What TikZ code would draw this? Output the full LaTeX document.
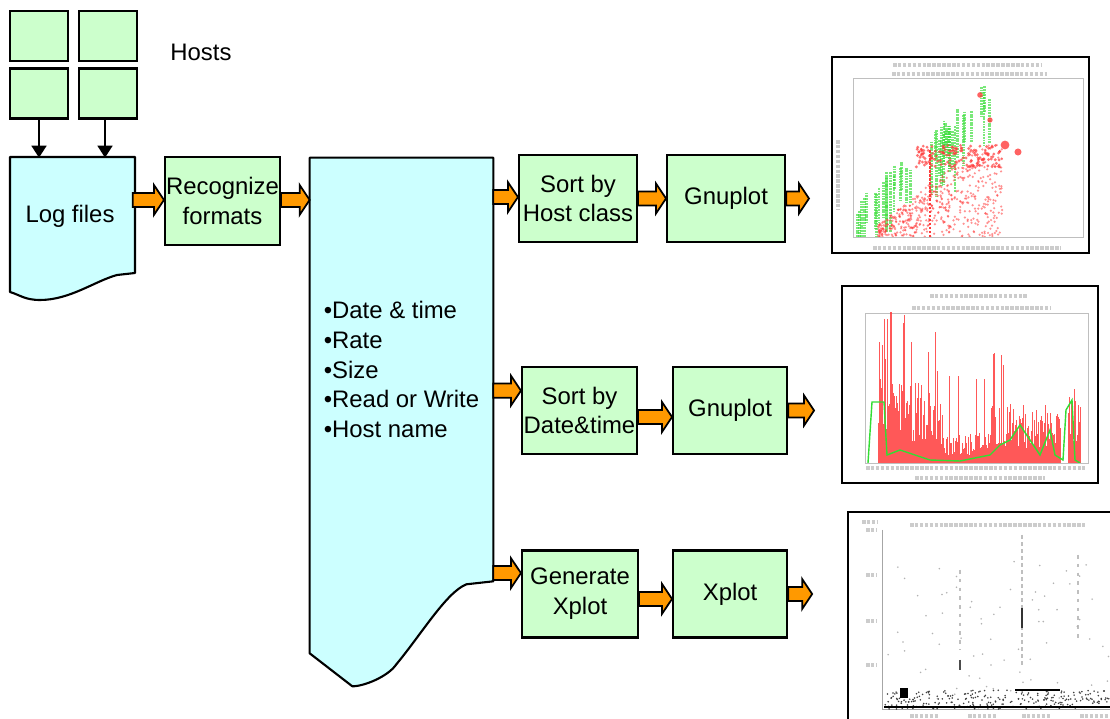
\documentclass[tikz,border=0pt]{standalone}
\usepackage{fontspec}
\setmainfont{Liberation Sans}
\usetikzlibrary{arrows.meta,calc,positioning,backgrounds}

\definecolor{hostgreen}{HTML}{CCFFCC}
\definecolor{doccyan}{HTML}{CCFFFF}
\definecolor{arroworange}{HTML}{FF9900}
\definecolor{plotred}{HTML}{FF3B3B}
\definecolor{plotgreen}{HTML}{33DD33}

\begin{document}
\begin{tikzpicture}[
    x=0.02cm, y=-0.02cm,
    font=\fontsize{13.6}{17}\selectfont,
    host node/.style={rectangle,draw,fill=hostgreen,line width=1.2pt,minimum width=1.16cm,minimum height=1cm,inner sep=0pt},
    step node/.style={rectangle,draw,fill=hostgreen,line width=1.2pt,align=center,inner sep=0pt,minimum height=1.74cm},
    doc node/.style={rectangle,inner sep=0pt,align=left},
    doc shape/.style={draw,fill=doccyan,line width=1.2pt,line join=round},
    plot frame/.style={rectangle,draw,line width=1.2pt,fill=white,inner sep=0pt},
    blur text/.style={gray!40,line width=2.2pt,dash pattern=on 2pt off 0.8pt},
    host arrow/.style={line width=1pt,-{Triangle[length=6.8pt,width=8.5pt]}},
    fat arrow/.style={draw=black,fill=arroworange,line width=1pt,line join=miter,
        to path={let \p1=(\tikztostart), \p2=(\tikztotarget) in
            (\x1,\y1+4pt) -- (\x2-5.7pt,\y1+4pt) -- (\x2-5.7pt,\y1+8.5pt) -- (\x2,\y1)
            -- (\x2-5.7pt,\y1-8.5pt) -- (\x2-5.7pt,\y1-4pt) -- (\x1,\y1-4pt) -- cycle}}
]
\useasboundingbox (0,0) rectangle (1110,719);

% Hosts
\node[host node] (h1) at (39,36) {};
\node[host node] (h2) at (108,36) {};
\node[host node] (h3) at (39,93.5) {};
\node[host node] (h4) at (108,93.5) {};
\node (hostlabel) at (201,52) {Hosts};

% Log files and parsing
\node[doc node,minimum width=2.5cm,minimum height=2.32cm] (logf) at (70,216) {Log files};
\node[step node,minimum width=2.3cm,minimum height=1.76cm] (recog) at (222.5,201) {Recognize\\formats};

% Parsed fields
\node[doc node,minimum width=3.66cm,minimum height=8.46cm] (bigdoc) at (401.5,369.5)
    {•Date \& time\\•Rate\\•Size\\•Read or Write\\•Host name};

\begin{scope}[on background layer]
\draw[doc shape] (10,157) -- (135,157) -- (135,273) -- ++(-18,2)
    .. controls +(-22,6) and +(30,0) .. ++(-77,25)
    .. controls +(-15,0) and +(10,3) .. (10,292) -- cycle;
\draw[doc shape] (bigdoc.north west) -- (bigdoc.north east) -- (bigdoc.south east) -- ++(-27,3)
    .. controls +(-20,8) and +(25,-30) .. ++(-70,80)
    .. controls +(-8,12) and +(12,0) .. ++(-44,22)
    -- ($(bigdoc.south west)+(0,72)$) -- cycle;
\end{scope}

% Processing rows
\node[step node,minimum width=2.36cm] (sorthost) at (578,198.5) {Sort by\\Host class};
\node[step node,minimum width=2.36cm,right=0.56cm of sorthost] (gnuA) {Gnuplot};
\node[step node,minimum width=2.3cm] (sortdt) at (579.5,410.5) {Sort by\\Date\&time};
\node[step node,minimum width=2.28cm,right=0.68cm of sortdt] (gnuB) {Gnuplot};
\node[step node,minimum width=2.32cm] (genx) at (580,594) {Generate\\Xplot};
\node[step node,minimum width=2.28cm,right=0.66cm of genx] (xplot) {Xplot};

% Plot thumbnails
\node[plot frame,minimum width=5.14cm,minimum height=3.92cm] (plotA) at (960.5,155) {};
\node[plot frame,minimum width=5.12cm,minimum height=3.94cm] (plotB) at (970,384.5) {};
\begin{scope}
\clip (0,0) rectangle (1110,719);
\node[plot frame,minimum width=5.34cm,minimum height=4.26cm] (plotC) at (981.5,618.5) {};
% xplot
\draw[gray!70,line width=0.5pt] (882,530) -- (882,709) -- (1115,709);
\draw[blur text] (910,525) -- (1085,525);
\draw[blur text] (862,522) -- (878,522);
\foreach \ty in {530,575,621,665} \draw[blur text] (866,\ty) -- (876,\ty);
\foreach \tx in {910,968,1022,1080} \draw[blur text] (\tx,716) -- ++(28,0);
\draw[gray!50,line width=1pt,dash pattern=on 2pt off 2pt] (1022,535) -- (1022,665);
\draw[black!80,line width=1.4pt] (1022,608) -- (1022,628);
\draw[gray!50,line width=1pt,dash pattern=on 2pt off 3pt] (960,570) -- (960,650);
\draw[black!70,line width=1.4pt] (960,660) -- (960,670);
\draw[gray!50,line width=1pt,dash pattern=on 2pt off 3pt] (1078,555) -- (1078,640);
\pgfmathsetseed{5}
\foreach \i in {1,...,70}{
  \pgfmathsetmacro\cx{885+225*rnd}
  \pgfmathsetmacro\cy{560+140*rnd}
  \fill[gray!60] (\cx,\cy) circle (0.5pt);
}
\foreach \i in {1,...,260}{
  \pgfmathsetmacro\cx{885+225*rnd}
  \pgfmathsetmacro\cy{690+19*rnd}
  \fill[black!75] (\cx,\cy) circle (0.5pt);
}
\draw[black,line width=1.6pt] (884,707) -- (1110,707);
\fill[black] (900,688) rectangle (908,698);
\draw[black,line width=1.2pt] (1015,690) -- (1060,690);
\end{scope}

% scatter plot
\draw[blur text] (893,65) -- (1042,65);
\draw[blur text] (892,74) -- (1047,74);
\draw[blur text] (873,248) -- (1060,248);
\draw[blur text] (838,140) -- (838,210);
\draw[gray!50,line width=0.4pt] (853,78) rectangle (1083,237);
\begin{scope}
\clip (853,78) rectangle (1083,237);
\pgfmathsetseed{11}
\foreach \i in {1,...,40}{
  \pgfmathsetmacro\gx{857+145*rnd}
  \pgfmathsetmacro\gy{max(85,200-(\gx-855)*0.9)+20*rnd}
  \pgfmathsetmacro\gl{20+50*rnd}
  \draw[plotgreen,opacity=0.65,line width=1.6pt,dash pattern=on 1pt off 0.5pt] (\gx,\gy) -- ++(0,\gl);
}
\foreach \i in {1,...,550}{
  \pgfmathsetmacro\rx{878+125*rnd}
  \pgfmathsetmacro\rtop{max(145,232-(\rx-870)*0.8)}
  \pgfmathsetmacro\ry{\rtop+(237-\rtop)*rnd}
  \fill[plotred,opacity=0.55] (\rx,\ry) circle (0.7pt);
}
\foreach \i in {1,...,140}{
  \pgfmathsetmacro\rx{915+85*rnd}
  \pgfmathsetmacro\ry{145+22*rnd}
  \fill[plotred,opacity=0.7] (\rx,\ry) circle (0.9pt);
}
\draw[plotred,line width=1.5pt,dash pattern=on 1.5pt off 0.8pt] (930,150) -- (930,237);
\fill[plotred,opacity=0.8] (980,95) circle (1.6pt) (1005,145) circle (2.5pt) (1018,152) circle (2pt) (990,120) circle (1.5pt);
\end{scope}

% time series plot
\draw[blur text] (930,296) -- (1027,296);
\draw[blur text] (912,308) -- (1050,308);
\draw[blur text] (915,478) -- (1045,478);
\draw[blur text] (866,468) -- (1085,468);
\draw[gray!50,line width=0.4pt] (865,313) rectangle (1088,463);
\begin{scope}
\clip (865,313) rectangle (1088,463);
\pgfmathsetseed{3}
\foreach \a/\b/\amp in {878/886/125, 887/925/85, 926/942/75, 943/990/30, 991/1060/60, 1068/1080/75}{
  \foreach \x in {\a,...,\b}{
    \pgfmathsetmacro\h{\amp*(0.25+0.75*rnd)+(rnd>0.9)*70}
    \draw[plotred,opacity=0.85,line width=0.55pt] (\x,463) -- ++(0,-\h);
  }
}
\draw[plotgreen,line width=0.8pt] (868,463) -- (872,402) -- (884,402) -- (887,455) -- (900,450)
    -- (915,455) -- (930,460) -- (960,461) -- (990,455) -- (1000,445) -- (1010,440) -- (1020,425)
    -- (1030,440) -- (1040,455) -- (1050,430) -- (1055,455) -- (1063,460) -- (1066,410)
    -- (1072,400) -- (1075,460) -- (1080,463);
\end{scope}

% Arrows
\draw[host arrow] (h3.south) -- (h3.south |- logf.north);
\draw[host arrow] ([xshift=-1.7pt]h4.south) -- ([xshift=-1.7pt]h4.south |- logf.north);

\draw[fat arrow] ([yshift=0.6pt]logf.east |- recog.west) to (recog.west);
\draw[fat arrow] ([yshift=0.6pt]recog.east) to (bigdoc.west |- recog.east);
\draw[fat arrow] ([yshift=0.8pt]bigdoc.east |- sorthost.west) to (sorthost.west);
\draw[fat arrow] ([yshift=11.3pt]bigdoc.east |- sortdt.west) to (sortdt.west);
\draw[fat arrow] ([yshift=11.9pt]bigdoc.east |- genx.west) to (genx.west);

\draw[fat arrow] (sorthost.east) to (gnuA.west);
\draw[fat arrow] ([yshift=-3.7pt]sortdt.east) to (gnuB.west);
\draw[fat arrow] ([yshift=-2.8pt]genx.east) to (xplot.west);

\draw[fat arrow] (gnuA.east) to ([xshift=-12.5pt]plotA.west);
\draw[fat arrow] (gnuB.east) to ([xshift=-15.3pt]plotB.west);
\draw[fat arrow] (xplot.east) to ([xshift=-19.8pt]plotC.west);

\end{tikzpicture}
\end{document}
